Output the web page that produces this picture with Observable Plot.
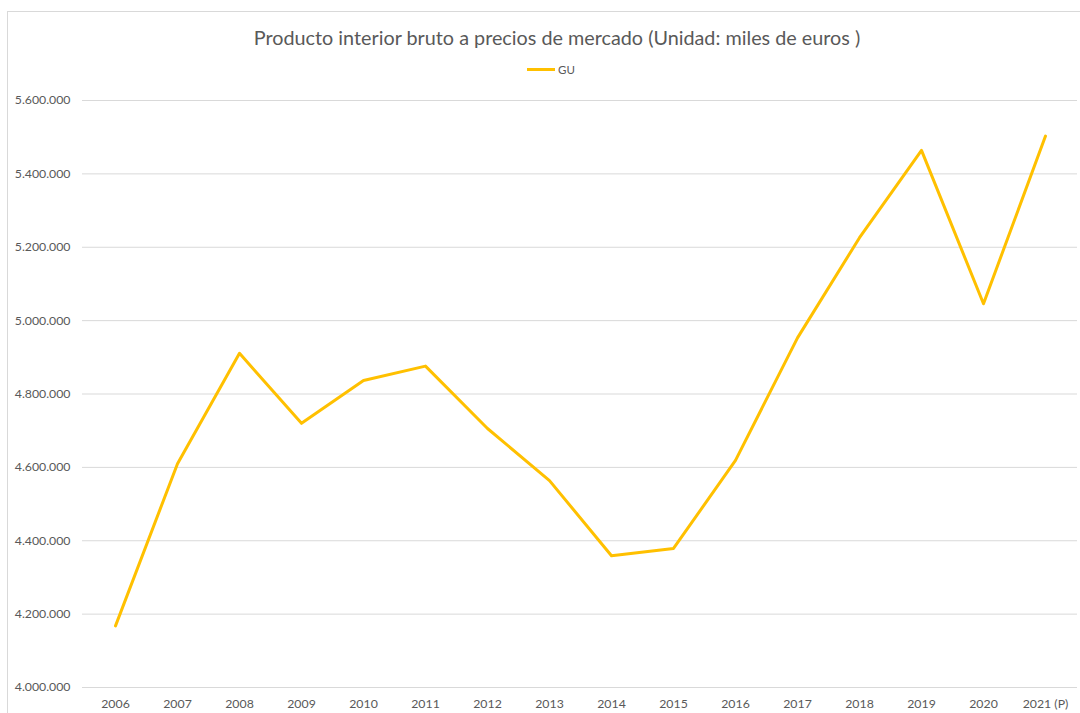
<!DOCTYPE html>
<html>
<head>
<meta charset="utf-8">
<script src="https://cdn.jsdelivr.net/npm/d3@7"></script>
<script src="https://cdn.jsdelivr.net/npm/@observablehq/plot@0.6"></script>
<style>
  html, body { margin: 0; padding: 0; background: #fff; }
  #wrap { position: relative; width: 1080px; height: 713px; overflow: hidden; font-family: Lato, "Open Sans", sans-serif; }
  #frame { position: absolute; left: 7px; top: 11px; width: 1100px; height: 720px; border-left: 1px solid #d9d9d9; border-top: 1px solid #d9d9d9; box-sizing: border-box; }
  #header { position: relative; height: 90px; }
  #title { position: absolute; left: 0; width: 1114px; top: 25px; text-align: center; font-size: 19.8px; color: #595959; }
  #legend { position: absolute; left: 527px; top: 63px; font-size: 11.5px; color: #595959; display: flex; align-items: center; }
  #legend .sw { width: 28px; height: 3px; background: #FFC000; margin-right: 3px; }
  #chart { position: relative; }
</style>
</head>
<body>
<div id="wrap">
  <div id="frame"></div>
  <div id="header">
    <div id="title">Producto interior bruto a precios de mercado (Unidad: miles de euros )</div>
    <div id="legend"><span class="sw"></span><span id="legendLabel"></span></div>
  </div>
  <div id="chart"></div>
</div>
<script>
const seriesName = "GU";
const years = ["2006","2007","2008","2009","2010","2011","2012","2013","2014","2015","2016","2017","2018","2019","2020","2021 (P)"];
const values = [4168000, 4610000, 4911000, 4720000, 4837000, 4876000, 4706000, 4564000, 4359000, 4379000, 4619000, 4953000, 5226000, 5464000, 5046000, 5503000];
const yTicks = [4000000, 4200000, 4400000, 4600000, 4800000, 5000000, 5200000, 5400000, 5600000];

document.getElementById("legendLabel").textContent = seriesName;

const data = years.map((year, i) => ({year, value: values[i]}));
const fmt = d3.formatLocale({decimal: ",", thousands: ".", grouping: [3], currency: ["", "€"]}).format(",");

const chart = Plot.plot({
  width: 1080,
  height: 623,
  marginLeft: 82,
  marginRight: 3,
  marginTop: 10,
  marginBottom: 26,
  style: {fontFamily: "Lato, 'Open Sans', sans-serif", fontSize: "12.3px", color: "#595959", background: "transparent"},
  x: {type: "point", domain: years, padding: 0.5, align: 0.5, label: null},
  y: {domain: [4000000, 5600000], label: null},
  marks: [
    Plot.gridY(yTicks, {stroke: "#d9d9d9", strokeOpacity: 1, strokeWidth: 1}),
    Plot.axisY(yTicks, {tickSize: 0, tickPadding: 12, tickFormat: fmt, label: null, fill: "#595959"}),
    Plot.axisX({tickSize: 0, tickPadding: 12, label: null, fill: "#595959"}),
    Plot.line(data, {x: "year", y: "value", stroke: "#FFC000", strokeWidth: 3, strokeLinejoin: "round", strokeLinecap: "round"})
  ]
});
document.getElementById("chart").appendChild(chart);
</script>
</body>
</html>
